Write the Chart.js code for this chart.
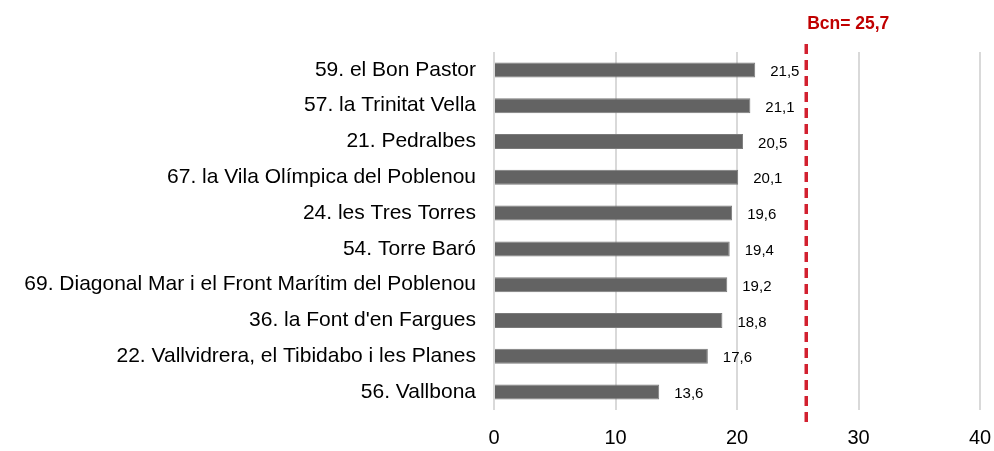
<!DOCTYPE html>
<html>
<head>
<meta charset="utf-8">
<script src="https://cdn.jsdelivr.net/npm/chart.js@4/dist/chart.umd.min.js"></script>
<style>
  html, body { margin: 0; padding: 0; background: #fff; }
  #wrap { width: 994px; height: 451px; }
</style>
</head>
<body>
<div id="wrap"><canvas id="chart" width="994" height="451"></canvas></div>
<script>
// data
const barrios = [
  '59. el Bon Pastor',
  '57. la Trinitat Vella',
  '21. Pedralbes',
  '67. la Vila Olímpica del Poblenou',
  '24. les Tres Torres',
  '54. Torre Baró',
  '69. Diagonal Mar i el Front Marítim del Poblenou',
  "36. la Font d'en Fargues",
  '22. Vallvidrera, el Tibidabo i les Planes',
  '56. Vallbona'
];
const valores = [21.5, 21.1, 20.5, 20.1, 19.6, 19.4, 19.2, 18.8, 17.6, 13.6];
const bcnValor = 25.7;
const bcnLabel = 'Bcn= 25,7';
const xTicks = [0, 10, 20, 30, 40];

const fmt = v => v.toFixed(1).replace('.', ',');

// value labels + Barcelona reference line
const extras = {
  id: 'extras',
  afterDatasetsDraw(chart) {
    const ctx = chart.ctx;
    const meta = chart.getDatasetMeta(0);
    ctx.save();
    ctx.font = '15px "Liberation Sans", Arial, sans-serif';
    ctx.fillStyle = '#000';
    ctx.textBaseline = 'middle';
    ctx.textAlign = 'left';
    meta.data.forEach((bar, i) => {
      ctx.fillText(fmt(valores[i]), bar.x + 15, bar.y + 2);
    });

    const x = chart.scales.x.getPixelForValue(bcnValor);
    ctx.strokeStyle = '#D2202F';
    ctx.lineWidth = 3.5;
    ctx.setLineDash([10, 6]);
    ctx.beginPath();
    ctx.moveTo(x, 44);
    ctx.lineTo(x, 426);
    ctx.stroke();
    ctx.setLineDash([]);

    ctx.font = 'bold 17.5px "Liberation Sans", Arial, sans-serif';
    ctx.fillStyle = '#C00000';
    ctx.textAlign = 'center';
    ctx.fillText(bcnLabel, x + 42, 24);
    ctx.restore();
  }
};

new Chart(document.getElementById('chart').getContext('2d'), {
  type: 'bar',
  data: {
    labels: barrios,
    datasets: [{
      data: valores,
      backgroundColor: '#636363',
      borderColor: '#7a7a7a',
      borderWidth: 1,
      borderSkipped: 'left',
      categoryPercentage: 1,
      barPercentage: 0.42
    }]
  },
  options: {
    indexAxis: 'y',
    responsive: false,
    animation: false,
    layout: { padding: { top: 52, right: 0, bottom: 0, left: 0 } },
    plugins: {
      legend: { display: false },
      tooltip: { enabled: false }
    },
    scales: {
      x: {
        min: 0,
        max: 40,
        afterBuildTicks: scale => { scale.ticks = xTicks.map(v => ({ value: v })); },
        afterFit: scale => {
          scale.height = 41;
          scale.paddingLeft = 0;
          scale.paddingRight = 14;
        },
        grid: { color: '#d9d9d9', lineWidth: 2, drawTicks: false },
        border: { display: false },
        ticks: {
          color: '#000',
          padding: 16,
          font: { size: 20, family: '"Liberation Sans", Arial, sans-serif' }
        }
      },
      y: {
        grid: { display: false },
        border: { display: false },
        afterFit: scale => { scale.width = 494; },
        ticks: {
          color: '#000',
          padding: 10,
          font: { size: 21, family: '"Liberation Sans", Arial, sans-serif' }
        }
      }
    }
  },
  plugins: [extras]
});
</script>
</body>
</html>
